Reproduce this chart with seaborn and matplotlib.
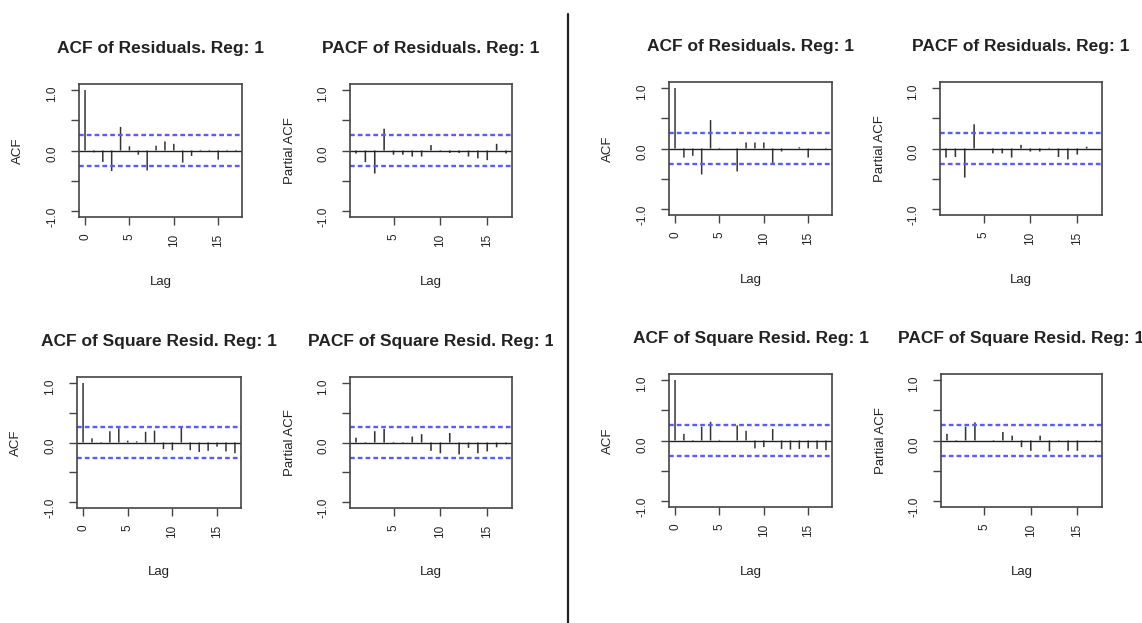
import numpy as np
import pandas as pd
import seaborn as sns
import matplotlib
matplotlib.use('Agg')
import matplotlib.pyplot as plt
from matplotlib.lines import Line2D
from matplotlib.transforms import Bbox, TransformedBbox

sns.set_theme(style="white")
plt.rcParams['font.family'] = ['Liberation Sans', 'DejaVu Sans']

# values
acf_lags = list(range(0, 18))
pacf_lags = list(range(1, 18))
conf = 0.26

acf_res_left = [1.0, -0.03, -0.19, -0.34, 0.39, 0.07, -0.07, -0.33, 0.08, 0.15, 0.11, -0.20, -0.09, 0.01, 0.01, -0.15, 0.01, 0.01]
pacf_res_left = [-0.05, -0.19, -0.38, 0.36, -0.07, -0.07, -0.10, -0.10, 0.09, -0.02, -0.04, -0.04, -0.10, -0.13, -0.16, 0.11, -0.05]
acf_sq_left = [1.0, 0.07, -0.01, 0.19, 0.24, 0.03, 0.02, 0.18, 0.20, -0.11, -0.13, 0.25, -0.13, -0.16, -0.14, -0.07, -0.15, -0.18]
pacf_sq_left = [0.08, -0.01, 0.19, 0.23, 0.01, -0.01, 0.10, 0.14, -0.14, -0.18, 0.16, -0.20, -0.09, -0.18, -0.15, -0.08, -0.03]

acf_res_right = [1.0, -0.15, -0.12, -0.43, 0.47, 0.01, 0.0, -0.38, 0.10, 0.10, 0.10, -0.25, -0.05, 0.0, 0.02, -0.15, 0.0, 0.01]
pacf_res_right = [-0.15, -0.14, -0.48, 0.40, 0.0, -0.08, -0.08, -0.15, 0.06, -0.05, -0.05, 0.01, -0.14, -0.18, -0.10, 0.03, 0.0]
acf_sq_right = [1.0, 0.11, -0.01, 0.23, 0.31, 0.01, 0.0, 0.25, 0.16, -0.13, -0.11, 0.19, -0.14, -0.15, -0.14, -0.13, -0.14, -0.16]
pacf_sq_right = [0.11, -0.01, 0.23, 0.30, 0.0, -0.01, 0.14, 0.08, -0.11, -0.17, 0.08, -0.18, -0.01, -0.17, -0.17, 0.0, -0.02]

W, H = 1142, 623
fig = plt.figure(figsize=(W / 100, H / 100), dpi=100)
fig.patch.set_facecolor('white')

TXT = '#222222'
AX = '#444444'
BAR = '#333333'


def add_panel(box, lags, vals, title, ylabel, clip_x):
    x0, y0, x1, y1 = box
    ax = fig.add_axes([x0 / W, 1 - y1 / H, (x1 - x0) / W, (y1 - y0) / H])
    df = pd.DataFrame({'lag': lags, 'value': vals})
    sns.barplot(data=df, x='lag', y='value', native_scale=True, width=0.17,
                color=BAR, saturation=1, errorbar=None, linewidth=0, ax=ax)
    # no pixel snapping, so every stem gets the same width
    for p in ax.patches:
        p.set_snap(False)
    ax.axhline(0, color=TXT, lw=1)
    for c in (conf, -conf):
        ax.axhline(c, color='#5a5aff', lw=1.7, ls=(0, (2.0, 1.3)))

    lo, hi = lags[0], lags[-1]
    pad = (hi - lo) * 0.04
    ax.set_xlim(lo - pad, hi + pad)
    ax.set_ylim(-1.1, 1.1)
    ax.set_xticks([t for t in (0, 5, 10, 15) if t >= lo])
    ax.set_yticks([-1, -0.5, 0, 0.5, 1])
    ax.set_yticklabels(['-1.0', '', '0.0', '', '1.0'])

    for s in ax.spines.values():
        s.set_color(AX)
        s.set_linewidth(1.2)
    ax.tick_params(axis='both', direction='out', length=6, width=1, color=AX,
                   labelsize=8.5, labelcolor=TXT, left=True, bottom=True)
    ax.tick_params(axis='y', labelrotation=90, pad=9)
    ax.tick_params(axis='x', labelrotation=90, pad=6)

    ax.set_xlabel('Lag', fontsize=9.5, color=TXT)
    ax.set_ylabel(ylabel, fontsize=9.5, color=TXT)
    ax.xaxis.set_label_coords(0.5, -0.44)
    ax.yaxis.set_label_coords(-0.335, 0.5)

    t = ax.set_title(title, fontsize=12.5, fontweight='bold', color=TXT, pad=22)
    t.set_clip_box(TransformedBbox(Bbox([[clip_x[0] / W, 0], [clip_x[1] / W, 1]]), fig.transFigure))
    t.set_clip_on(True)
    return ax


left_clip = (0, 553)
right_clip = (570, W)

add_panel((79, 84, 242, 217), acf_lags, acf_res_left, 'ACF of Residuals. Reg: 1', 'ACF', left_clip)
add_panel((350, 84, 512, 217), pacf_lags, pacf_res_left, 'PACF of Residuals. Reg: 1', 'Partial ACF', left_clip)
add_panel((77, 377, 241, 508), acf_lags, acf_sq_left, 'ACF of Square Resid. Reg: 1', 'ACF', left_clip)
add_panel((350, 377, 512, 508), pacf_lags, pacf_sq_left, 'PACF of Square Resid. Reg: 1', 'Partial ACF', left_clip)

add_panel((669, 82, 832, 215), acf_lags, acf_res_right, 'ACF of Residuals. Reg: 1', 'ACF', right_clip)
add_panel((940, 82, 1102, 215), pacf_lags, pacf_res_right, 'PACF of Residuals. Reg: 1', 'Partial ACF', right_clip)
add_panel((669, 374, 832, 507), acf_lags, acf_sq_right, 'ACF of Square Resid. Reg: 1', 'ACF', right_clip)
add_panel((941, 374, 1102, 507), pacf_lags, pacf_sq_right, 'PACF of Square Resid. Reg: 1', 'Partial ACF', right_clip)

# divider between the two 2x2 blocks
fig.add_artist(Line2D([568 / W, 568 / W], [0, 1 - 14 / H], color='#222222', lw=1.6))

fig.savefig('out.png', dpi=100, facecolor='white')
